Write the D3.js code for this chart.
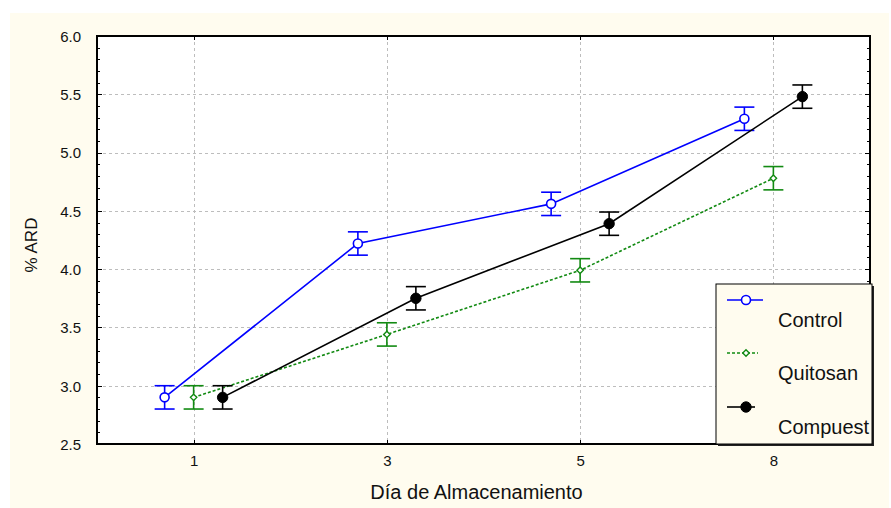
<!DOCTYPE html>
<html>
<head>
<meta charset="utf-8">
<script src="https://cdn.jsdelivr.net/npm/d3@7"></script>
<style>
  html, body { margin: 0; padding: 0; background: #ffffff; }
  svg { display: block; font-family: "Liberation Sans", Arial, sans-serif; }
</style>
</head>
<body>
<svg id="chart" width="891" height="508"></svg>
<script>
// Storage days and mean %ARD with standard error for each coating treatment
const days = ["1", "3", "5", "8"];
const control = [2.90, 4.22, 4.56, 5.29];
const quitosan = [2.90, 3.44, 3.99, 4.78];
const compuest = [2.90, 3.75, 4.39, 5.48];
const controlErr = [0.10, 0.10, 0.10, 0.10];
const quitosanErr = [0.10, 0.10, 0.10, 0.10];
const compuestErr = [0.10, 0.10, 0.10, 0.10];
const seriesNames = ["Control", "Quitosan", "Compuest"];
const yTicks = [2.5, 3.0, 3.5, 4.0, 4.5, 5.0, 5.5, 6.0];
const yTitle = "% ARD";
const xTitle = "Día de Almacenamiento";

const W = 891, H = 508;
const plot = { left: 97, top: 36, right: 870, bottom: 444 };
const cream = "#fffcef";
const fontFam = "'Liberation Sans', Arial, sans-serif";

const svg = d3.select("#chart");

// page background panel
svg.append("rect").attr("x", 10).attr("y", 13).attr("width", 879).attr("height", H - 13)
  .attr("fill", cream);

const x = d3.scalePoint().domain(days).range([plot.left, plot.right]).padding(0.5);
const y = d3.scaleLinear().domain([2.5, 6.0]).range([plot.bottom, plot.top]);

// plot area
svg.append("rect").attr("x", plot.left).attr("y", plot.top)
  .attr("width", plot.right - plot.left).attr("height", plot.bottom - plot.top)
  .attr("fill", "#ffffff");

// grid
const grid = svg.append("g").attr("stroke", "#bdbdbd").attr("stroke-width", 1)
  .attr("stroke-dasharray", "3,3");
grid.selectAll("line.h").data(yTicks.filter(v => v > 2.5 && v < 6.0)).join("line")
  .attr("x1", plot.left).attr("x2", plot.right)
  .attr("y1", d => Math.round(y(d)) + 0.5).attr("y2", d => Math.round(y(d)) + 0.5);
grid.selectAll("line.v").data(days).join("line")
  .attr("y1", plot.top).attr("y2", plot.bottom)
  .attr("x1", d => Math.round(x(d)) + 0.5).attr("x2", d => Math.round(x(d)) + 0.5);

// series
const series = [
  { name: seriesNames[0], values: control, err: controlErr, color: "#0000ff", dx: -29, dash: null, marker: "circleOpen" },
  { name: seriesNames[1], values: quitosan, err: quitosanErr, color: "#128a12", dx: 0, dash: "3,2", marker: "diamond" },
  { name: seriesNames[2], values: compuest, err: compuestErr, color: "#000000", dx: 29, dash: null, marker: "circleFilled" }
];

function drawMarker(g, type, color, cx, cy) {
  if (type === "circleOpen") {
    g.append("circle").attr("cx", cx).attr("cy", cy).attr("r", 4.5)
      .attr("fill", "#ffffff").attr("stroke", color).attr("stroke-width", 1.6);
  } else if (type === "diamond") {
    const s = 3.2;
    g.append("path")
      .attr("d", `M${cx},${cy - s}L${cx + s},${cy}L${cx},${cy + s}L${cx - s},${cy}Z`)
      .attr("fill", "#ffffff").attr("stroke", color).attr("stroke-width", 1.4);
  } else {
    g.append("circle").attr("cx", cx).attr("cy", cy).attr("r", 5.2)
      .attr("fill", color).attr("stroke", color).attr("stroke-width", 1);
  }
}

const line = d3.line();
series.forEach(s => {
  const pts = days.map((d, i) => [x(d) + s.dx, y(s.values[i])]);
  svg.append("path").attr("d", line(pts)).attr("fill", "none")
    .attr("stroke", s.color).attr("stroke-width", 1.6)
    .attr("stroke-dasharray", s.dash);
  const g = svg.append("g");
  days.forEach((d, i) => {
    const cx = x(d) + s.dx;
    const yt = y(s.values[i] + s.err[i]), yb = y(s.values[i] - s.err[i]);
    const eb = g.append("g").attr("stroke", s.color).attr("stroke-width", 1.6);
    eb.append("line").attr("x1", cx).attr("x2", cx).attr("y1", yt).attr("y2", yb);
    eb.append("line").attr("x1", cx - 10).attr("x2", cx + 10).attr("y1", yt).attr("y2", yt);
    eb.append("line").attr("x1", cx - 10).attr("x2", cx + 10).attr("y1", yb).attr("y2", yb);
    drawMarker(g, s.marker, s.color, cx, y(s.values[i]));
  });
});

// minor and major ticks on the frame (pointing inward)
const minorVals = d3.range(25, 61).map(v => v / 10);
const ticks = svg.append("g").attr("stroke", "#000").attr("stroke-width", 1);
minorVals.forEach(v => {
  const yy = Math.round(y(v)) + 0.5;
  const len = Math.abs(v * 2 - Math.round(v * 2)) < 1e-6 ? 5 : 3;
  ticks.append("line").attr("x1", plot.left).attr("x2", plot.left + len).attr("y1", yy).attr("y2", yy);
  ticks.append("line").attr("x1", plot.right).attr("x2", plot.right - len).attr("y1", yy).attr("y2", yy);
});
days.forEach(d => {
  const xx = Math.round(x(d)) + 0.5;
  ticks.append("line").attr("x1", xx).attr("x2", xx).attr("y1", plot.bottom).attr("y2", plot.bottom - 4);
  ticks.append("line").attr("x1", xx).attr("x2", xx).attr("y1", plot.top).attr("y2", plot.top + 4);
});

// frame
svg.append("rect").attr("x", plot.left).attr("y", plot.top)
  .attr("width", plot.right - plot.left).attr("height", plot.bottom - plot.top)
  .attr("fill", "none").attr("stroke", "#000").attr("stroke-width", 2);

// axes (labels only; the frame is drawn above)
const yAxis = svg.append("g").attr("transform", `translate(${plot.left},0)`)
  .call(d3.axisLeft(y).tickValues(yTicks).tickFormat(d3.format(".1f")).tickSize(0).tickPadding(16));
yAxis.select(".domain").remove();
yAxis.selectAll("text")
  .style("font-size", "15px").style("font-family", fontFam)
  .attr("fill", "#111").attr("dy", "0.36em");

const xAxis = svg.append("g").attr("transform", `translate(0,${plot.bottom})`)
  .call(d3.axisBottom(x).tickSize(0).tickPadding(11));
xAxis.select(".domain").remove();
xAxis.selectAll("text")
  .style("font-size", "15px").style("font-family", fontFam)
  .attr("fill", "#111");

// axis titles
svg.append("text").attr("x", (plot.left + plot.right) / 2 - 7).attr("y", 499)
  .attr("text-anchor", "middle").style("font-size", "20px").attr("fill", "#111")
  .text(xTitle);
svg.append("text").attr("transform", "translate(37,245) rotate(-90)")
  .attr("text-anchor", "middle").style("font-size", "17px").attr("fill", "#111")
  .text(yTitle);

// legend
const lg = { x: 716, y: 284, w: 156, h: 160 };
svg.append("rect").attr("x", lg.x + 2).attr("y", lg.y + 2).attr("width", lg.w).attr("height", lg.h)
  .attr("fill", "#222");
svg.append("rect").attr("x", lg.x).attr("y", lg.y).attr("width", lg.w).attr("height", lg.h)
  .attr("fill", cream).attr("stroke", "#000").attr("stroke-width", 1);
const rows = [300, 353, 407];
const lineEnds = [763, 758, 755];
series.forEach((s, i) => {
  const ly = rows[i];
  svg.append("line").attr("x1", 727).attr("x2", lineEnds[i]).attr("y1", ly).attr("y2", ly)
    .attr("stroke", s.color).attr("stroke-width", 1.6).attr("stroke-dasharray", s.dash);
  drawMarker(svg, s.marker, s.color, 746, ly);
  svg.append("text").attr("x", 778).attr("y", ly + 27).style("font-size", "20px").attr("fill", "#111")
    .text(s.name);
});
</script>
</body>
</html>
